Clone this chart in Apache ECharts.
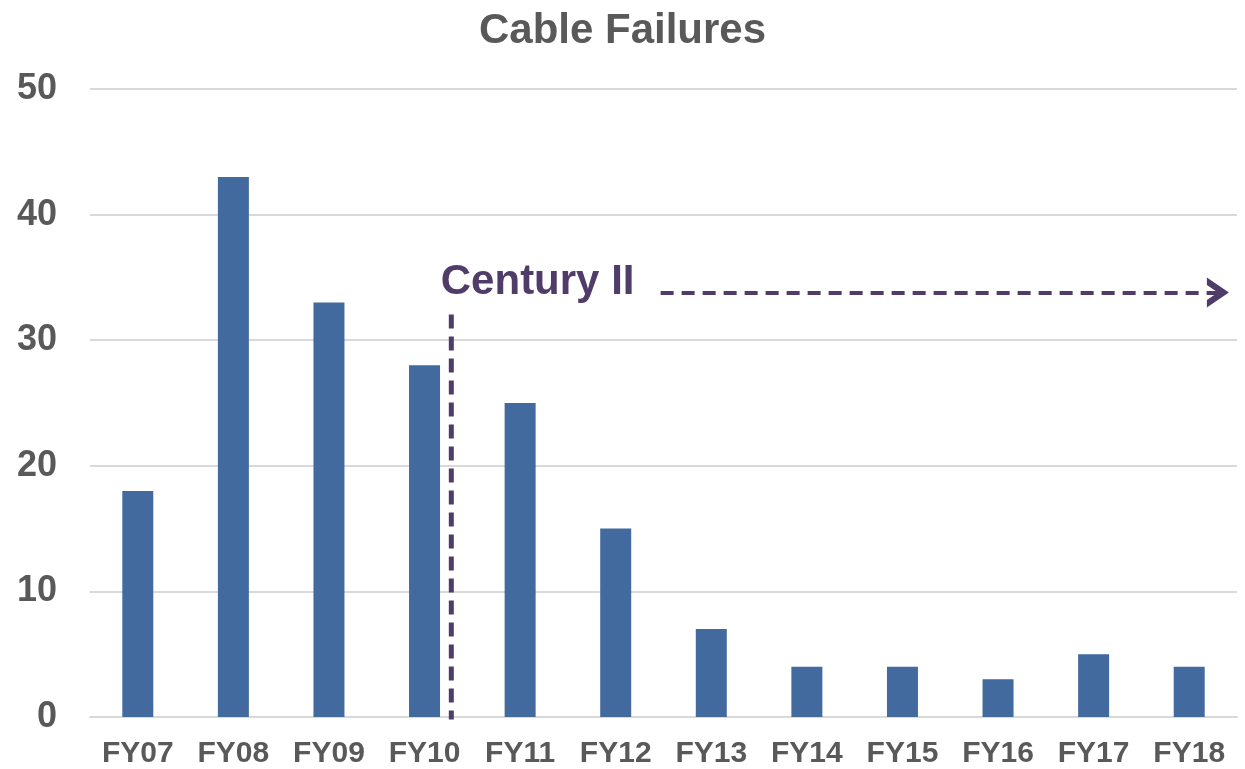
<!DOCTYPE html>
<html>
<head>
<meta charset="utf-8">
<script src="https://cdn.jsdelivr.net/npm/echarts@6/dist/echarts.min.js"></script>
<style>
  html, body { margin: 0; padding: 0; background: #fff; }
  #main { width: 1245px; height: 769px; }
</style>
</head>
<body>
<div id="main"></div>
<script>
var categories = ['FY07', 'FY08', 'FY09', 'FY10', 'FY11', 'FY12', 'FY13', 'FY14', 'FY15', 'FY16', 'FY17', 'FY18'];
var failures = [18, 43, 33, 28, 25, 15, 7, 4, 4, 3, 5, 4];
var yTicks = [0, 10, 20, 30, 40, 50];
// Century II marker, in category-index / value units
var dividerLine = [[3.28, -0.6], [3.28, 32.4]];
var arrowLine = [[5.47, 33.8], [11.3, 33.8]];
var annotation = { text: 'Century II', at: [3.17, 34.6] };

var purple = '#4F3C68';
var grey = '#595959';

var chart = echarts.init(document.getElementById('main'));
var option = {
  animation: false,
  title: {
    text: 'Cable Failures',
    left: 'center',
    top: 5,
    textStyle: { fontFamily: 'Liberation Sans', fontSize: 42, fontWeight: 'bold', color: grey }
  },
  grid: { left: 90, right: 8, top: 89, bottom: 52 },
  xAxis: [{
    type: 'category',
    data: categories,
    axisLine: { lineStyle: { color: '#D9D9D9', width: 2 } },
    axisTick: { show: false },
    axisLabel: { fontFamily: 'Liberation Sans', fontSize: 30, fontWeight: 'bold', color: grey, margin: 22 }
  }, {
    type: 'value',
    min: -0.5,
    max: 11.5,
    show: false
  }],
  yAxis: {
    type: 'value',
    min: yTicks[0],
    max: yTicks[yTicks.length - 1],
    interval: 10,
    axisLine: { show: false },
    axisTick: { show: false },
    splitLine: { lineStyle: { color: '#D9D9D9', width: 2 } },
    axisLabel: { fontFamily: 'Liberation Sans', fontSize: 36, fontWeight: 'bold', color: grey, margin: 33 }
  },
  series: [{
    type: 'bar',
    data: failures,
    barWidth: 31,
    itemStyle: { color: '#426A9E' }
  }, {
    type: 'line',
    xAxisIndex: 1,
    data: dividerLine,
    symbol: 'none',
    lineStyle: { color: purple, width: 5, type: [14, 8] },
    z: 5
  }, {
    type: 'line',
    xAxisIndex: 1,
    data: [],
    markLine: {
      silent: true,
      symbol: ['none', 'path://M0,0 L10,8 L0,16 L0,12 L5,8 L0,4 Z'],
      symbolSize: [22, 30],
      symbolRotate: 0,
      label: { show: false },
      lineStyle: { color: purple, width: 4, type: [13, 8] },
      data: [[{ coord: arrowLine[0] }, { coord: arrowLine[1] }]]
    }
  }]
};
chart.setOption(option);

var pos = chart.convertToPixel({ xAxisIndex: 1, yAxisIndex: 0 }, annotation.at);
chart.setOption({
  graphic: [{
    type: 'text',
    x: pos[0],
    y: pos[1],
    style: {
      text: annotation.text,
      fontFamily: 'Liberation Sans',
      fontSize: 42,
      fontWeight: 'bold',
      fill: purple,
      verticalAlign: 'middle'
    }
  }]
});
</script>
</body>
</html>
